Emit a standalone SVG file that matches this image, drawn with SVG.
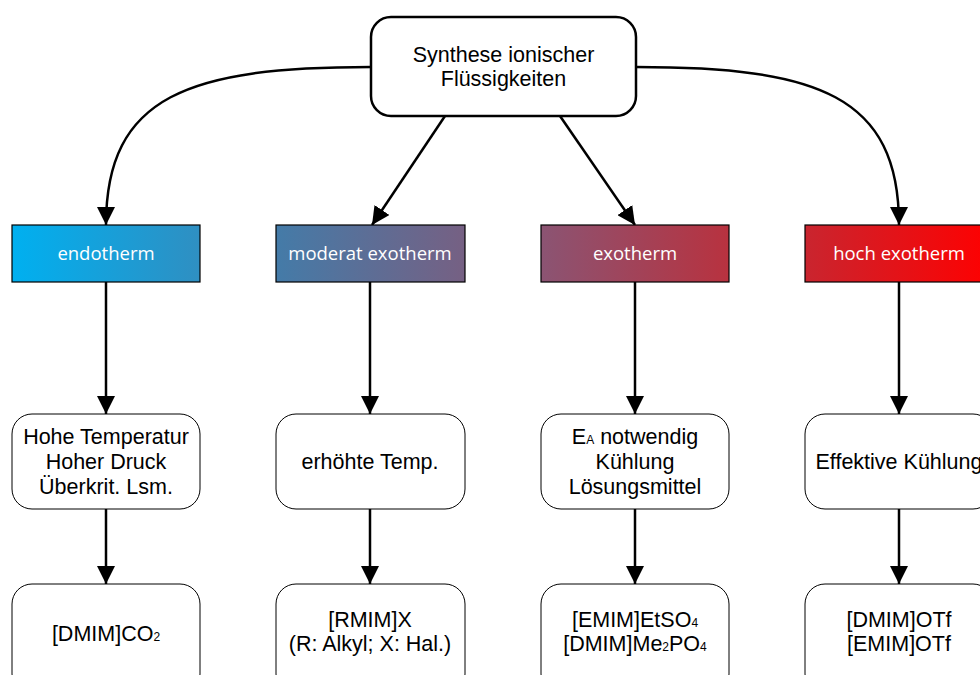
<svg xmlns="http://www.w3.org/2000/svg" width="980" height="675" viewBox="0 0 980 675">
  <defs>
    <marker id="arrow" viewBox="0 0 18 18" refX="18" refY="9" markerWidth="18" markerHeight="18" markerUnits="userSpaceOnUse" orient="auto">
      <path d="M0,0 L18,9 L0,18 Z" fill="#000"/>
    </marker>
    <linearGradient id="gEndo" x1="0" y1="0" x2="1" y2="0">
      <stop offset="0" stop-color="#00b0f0"/>
      <stop offset="1" stop-color="#2f8fc2"/>
    </linearGradient>
    <linearGradient id="gMod" x1="0" y1="0" x2="1" y2="0">
      <stop offset="0" stop-color="#447ba8"/>
      <stop offset="1" stop-color="#766083"/>
    </linearGradient>
    <linearGradient id="gExo" x1="0" y1="0" x2="1" y2="0">
      <stop offset="0" stop-color="#8b5473"/>
      <stop offset="1" stop-color="#b8323f"/>
    </linearGradient>
    <linearGradient id="gHoch" x1="0" y1="0" x2="1" y2="0">
      <stop offset="0" stop-color="#c9252f"/>
      <stop offset="1" stop-color="#ff0000"/>
    </linearGradient>
  </defs>
  <style>
    .edge { fill: none; stroke: #000; stroke-width: 2.5; marker-end: url(#arrow); }
    .root { fill: #fff; stroke: #000; stroke-width: 2.5; }
    .cat { stroke: #000; stroke-width: 1.2; }
    .card { fill: #fff; stroke: #000; stroke-width: 1; }
    .t { font-family: "Liberation Sans", Arial, sans-serif; font-size: 21.5px; fill: #000; text-anchor: middle; }
    .ct { font-family: "Open Sans", "Liberation Sans", sans-serif; font-size: 18.5px; fill: #fff; text-anchor: middle; }
    .sub { font-size: 12px; }
  </style>

  <rect width="980" height="675" fill="#fff"/>

  <!-- connectors -->
  <g id="edges">
    <path class="edge" d="M371,67 C190,67 106,95 106,225"/>
    <path class="edge" d="M445,116 L372,225"/>
    <path class="edge" d="M560,116 L635,225"/>
    <path class="edge" d="M636,67 C817,67 899,95 899,225"/>
    <path class="edge" d="M106,282 L106,414"/>
    <path class="edge" d="M370,282 L370,414"/>
    <path class="edge" d="M635,282 L635,414"/>
    <path class="edge" d="M899,282 L899,414"/>
    <path class="edge" d="M106,509 L106,584"/>
    <path class="edge" d="M370,509 L370,584"/>
    <path class="edge" d="M635,509 L635,584"/>
    <path class="edge" d="M899,509 L899,584"/>
  </g>

  <!-- root -->
  <g id="root">
    <rect class="root" x="371" y="17" width="265" height="99" rx="20"/>
    <text class="t" x="503.5" y="62">Synthese ionischer</text>
    <text class="t" x="503.5" y="86">Flüssigkeiten</text>
  </g>

  <!-- categories -->
  <g id="cat-endotherm">
    <rect class="cat" x="12" y="225" width="188" height="57" fill="url(#gEndo)"/>
    <text class="ct" x="106" y="260">endotherm</text>
  </g>
  <g id="cat-moderat">
    <rect class="cat" x="276" y="225" width="189" height="57" fill="url(#gMod)"/>
    <text class="ct" x="370" y="260">moderat exotherm</text>
  </g>
  <g id="cat-exotherm">
    <rect class="cat" x="541" y="225" width="188" height="57" fill="url(#gExo)"/>
    <text class="ct" x="635" y="260">exotherm</text>
  </g>
  <g id="cat-hoch">
    <rect class="cat" x="805" y="225" width="188" height="57" fill="url(#gHoch)"/>
    <text class="ct" x="899" y="260">hoch exotherm</text>
  </g>

  <!-- conditions -->
  <g id="cond-endotherm">
    <rect class="card" x="12" y="414" width="188" height="95" rx="20"/>
    <text class="t" x="106" y="444">Hohe Temperatur</text>
    <text class="t" x="106" y="469">Hoher Druck</text>
    <text class="t" x="106" y="494">Überkrit. Lsm.</text>
  </g>
  <g id="cond-moderat">
    <rect class="card" x="276" y="414" width="189" height="95" rx="20"/>
    <text class="t" x="370" y="469">erhöhte Temp.</text>
  </g>
  <g id="cond-exotherm">
    <rect class="card" x="541" y="414" width="188" height="95" rx="20"/>
    <text class="t" x="635" y="444">E<tspan class="sub">A</tspan> notwendig</text>
    <text class="t" x="635" y="469">Kühlung</text>
    <text class="t" x="635" y="494">Lösungsmittel</text>
  </g>
  <g id="cond-hoch">
    <rect class="card" x="805" y="414" width="188" height="95" rx="20"/>
    <text class="t" x="899" y="469">Effektive Kühlung</text>
  </g>

  <!-- products -->
  <g id="prod-endotherm">
    <rect class="card" x="12" y="584" width="188" height="110" rx="20"/>
    <text class="t" x="106" y="641">[DMIM]CO<tspan class="sub">2</tspan></text>
  </g>
  <g id="prod-moderat">
    <rect class="card" x="276" y="584" width="189" height="110" rx="20"/>
    <text class="t" x="370" y="627">[RMIM]X</text>
    <text class="t" x="370" y="651">(R: Alkyl; X: Hal.)</text>
  </g>
  <g id="prod-exotherm">
    <rect class="card" x="541" y="584" width="188" height="110" rx="20"/>
    <text class="t" x="635" y="627">[EMIM]EtSO<tspan class="sub">4</tspan></text>
    <text class="t" x="635" y="651">[DMIM]Me<tspan class="sub">2</tspan>PO<tspan class="sub">4</tspan></text>
  </g>
  <g id="prod-hoch">
    <rect class="card" x="805" y="584" width="188" height="110" rx="20"/>
    <text class="t" x="899" y="627">[DMIM]OTf</text>
    <text class="t" x="899" y="651">[EMIM]OTf</text>
  </g>
</svg>
